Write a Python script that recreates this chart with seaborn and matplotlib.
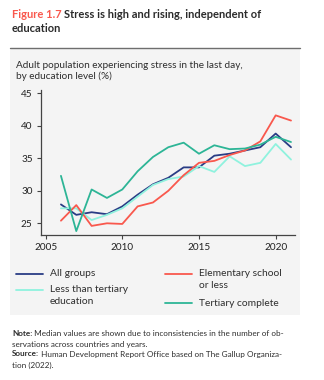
import matplotlib
matplotlib.use("Agg")
import matplotlib.pyplot as plt
from matplotlib.patches import Rectangle
from matplotlib.lines import Line2D
import seaborn as sns
import pandas as pd

years = list(range(2006, 2022))
all_groups = [27.9, 26.3, 26.7, 26.4, 27.6, 29.4, 31.0, 32.0, 33.6, 33.6, 35.4, 35.7, 36.2, 36.7, 38.8, 36.7]
elementary = [25.4, 27.8, 24.6, 25.0, 24.9, 27.6, 28.2, 30.0, 32.4, 34.3, 34.6, 35.5, 36.2, 37.6, 41.6, 40.8]
less_tertiary = [27.3, 27.3, 25.5, 26.3, 27.3, 29.1, 30.9, 31.8, 32.2, 33.8, 32.9, 35.3, 33.8, 34.3, 37.2, 34.8]
tertiary = [32.3, 23.8, 30.2, 28.9, 30.2, 33.0, 35.2, 36.7, 37.4, 35.7, 37.0, 36.4, 36.5, 37.1, 38.3, 37.5]

series_names = ["All groups", "Less than tertiary\neducation",
                "Elementary school\nor less", "Tertiary complete"]
series_values = [all_groups, less_tertiary, elementary, tertiary]
colors = ["#2a3d85", "#8ff2de", "#f9584d", "#2db596"]

x_ticks = [2005, 2010, 2015, 2020]
y_ticks = [25, 30, 35, 40, 45]

df = pd.DataFrame({
    "year": years * len(series_names),
    "value": [v for vals in series_values for v in vals],
    "group": [n for n in series_names for _ in years],
})

sns.set_theme(style="ticks")
plt.rcParams["font.family"] = ["Lato", "DejaVu Sans"]

W, H = 324, 380
fig = plt.figure(figsize=(W / 100, H / 100), dpi=100)
fig.patch.set_facecolor("white")
renderer = fig.canvas.get_renderer()


def fx(px):
    return px / W


def fy(py):
    return 1 - py / H


def text_run(x_px, y_px, pieces, **kw):
    """Place text pieces one after another on the same line."""
    x = x_px
    for s, extra in pieces:
        t = fig.text(fx(x), fy(y_px), s, va="center", **kw, **extra)
        bb = t.get_window_extent(renderer)
        x += bb.width


# grey panel behind the chart and its header rule
fig.patches.append(Rectangle((fx(10), fy(315)), 290 / W, 267 / H,
                             transform=fig.transFigure, facecolor="#f4f4f4",
                             edgecolor="none", zorder=-5))
fig.lines.append(Line2D([fx(10), fx(300)], [fy(48), fy(48)],
                        transform=fig.transFigure, color="#6e6e6e", lw=1.0))

text_run(12, 14, [("Figure 1.7 ", dict(color="#f9584d")),
                  ("Stress is high and rising, independent of", dict(color="#2b2b2b"))],
         fontsize=8.0, fontweight="bold")
fig.text(fx(12), fy(29), "education", color="#2b2b2b", fontsize=8.0,
         fontweight="bold", va="center")

fig.text(fx(16), fy(65), "Adult population experiencing stress in the last day,",
         color="#2e2e2e", fontsize=7.2, va="center")
fig.text(fx(16), fy(76), "by education level (%)",
         color="#2e2e2e", fontsize=7.2, va="center")

ax = fig.add_axes([fx(41), fy(235), 254 / W, 145 / H])
ax.set_facecolor("none")
sns.lineplot(data=df, x="year", y="value", hue="group", hue_order=series_names,
             palette=colors, linewidth=1.3, ax=ax, legend=False)

ax.set_xlim(2004.7, 2021.26)
ax.set_ylim(23.2, 45.5)
ax.set_xticks(x_ticks)
ax.set_yticks(y_ticks)
ax.set_xlabel("")
ax.set_ylabel("")
for s in ["top", "right"]:
    ax.spines[s].set_visible(False)
for s in ["left", "bottom"]:
    ax.spines[s].set_color("#444444")
    ax.spines[s].set_linewidth(0.9)
ax.tick_params(axis="both", length=3, width=0.8, color="#444444",
               labelsize=7.2, labelcolor="#222222", pad=3)

# legend: two columns, swatch aligned with the first line of each label
legend_slots = [(16, 274), (16, 290), (165, 274), (165, 303)]
for (lx, ly), name, c in zip(legend_slots, series_names, colors):
    fig.lines.append(Line2D([fx(lx), fx(lx + 27)], [fy(ly), fy(ly)],
                            transform=fig.transFigure, color=c, lw=1.3))
    for i, line in enumerate(name.split("\n")):
        fig.text(fx(lx + 34), fy(ly + i * 11.5), line, color="#2e2e2e",
                 fontsize=7.4, va="center")

note_kw = dict(color="#2e2e2e", fontsize=5.85)
text_run(12, 334, [("Note:", dict(fontweight="bold")),
                   (" Median values are shown due to inconsistencies in the number of ob-", {})],
         **note_kw)
fig.text(fx(12), fy(344), "servations across countries and years.", va="center", **note_kw)
text_run(12, 354, [("Source:", dict(fontweight="bold")),
                   (" Human Development Report Office based on The Gallup Organiza-", {})],
         **note_kw)
fig.text(fx(12), fy(365), "tion (2022).", va="center", **note_kw)

fig.savefig("out.png", dpi=100, facecolor="white")
